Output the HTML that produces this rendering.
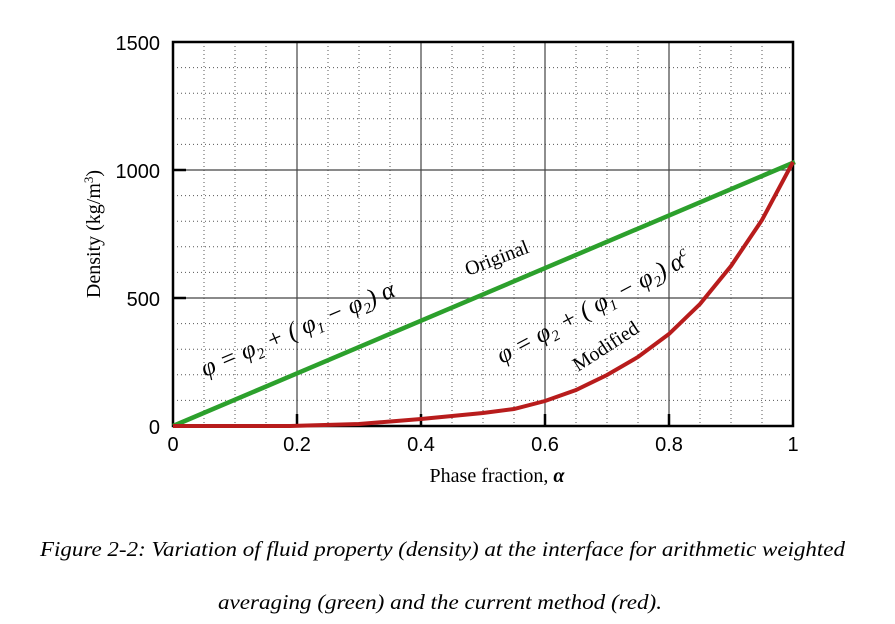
<!DOCTYPE html>
<html><head><style>body{margin:0;background:#fff;}svg{display:block}</style></head><body>
<svg width="895" height="624" xmlns="http://www.w3.org/2000/svg">
<rect width="895" height="624" fill="#fff"/>
<g stroke="#555" stroke-width="1" stroke-dasharray="1,3">
<line x1="204" y1="42" x2="204" y2="426"/><line x1="235" y1="42" x2="235" y2="426"/><line x1="266" y1="42" x2="266" y2="426"/>
<line x1="328" y1="42" x2="328" y2="426"/><line x1="359" y1="42" x2="359" y2="426"/><line x1="390" y1="42" x2="390" y2="426"/>
<line x1="452" y1="42" x2="452" y2="426"/><line x1="483" y1="42" x2="483" y2="426"/><line x1="514" y1="42" x2="514" y2="426"/>
<line x1="576" y1="42" x2="576" y2="426"/><line x1="607" y1="42" x2="607" y2="426"/><line x1="638" y1="42" x2="638" y2="426"/>
<line x1="700" y1="42" x2="700" y2="426"/><line x1="731" y1="42" x2="731" y2="426"/><line x1="762" y1="42" x2="762" y2="426"/>
<line x1="173" y1="67.6" x2="793" y2="67.6"/><line x1="173" y1="93.2" x2="793" y2="93.2"/><line x1="173" y1="118.8" x2="793" y2="118.8"/><line x1="173" y1="144.4" x2="793" y2="144.4"/>
<line x1="173" y1="195.6" x2="793" y2="195.6"/><line x1="173" y1="221.2" x2="793" y2="221.2"/><line x1="173" y1="246.8" x2="793" y2="246.8"/><line x1="173" y1="272.4" x2="793" y2="272.4"/>
<line x1="173" y1="323.6" x2="793" y2="323.6"/><line x1="173" y1="349.2" x2="793" y2="349.2"/><line x1="173" y1="374.8" x2="793" y2="374.8"/><line x1="173" y1="400.4" x2="793" y2="400.4"/>
</g>
<g stroke="#444" stroke-width="1.2">
<line x1="297" y1="42" x2="297" y2="426"/><line x1="421" y1="42" x2="421" y2="426"/><line x1="545" y1="42" x2="545" y2="426"/><line x1="669" y1="42" x2="669" y2="426"/>
<line x1="173" y1="170" x2="793" y2="170"/><line x1="173" y1="298" x2="793" y2="298"/>
</g>
<rect x="173" y="42" width="620" height="384" fill="none" stroke="#000" stroke-width="2.5"/>
<g stroke="#000" stroke-width="2.5">
<line x1="173" y1="170" x2="186" y2="170"/><line x1="173" y1="298" x2="186" y2="298"/>
<line x1="297" y1="426" x2="297" y2="414"/><line x1="421" y1="426" x2="421" y2="414"/><line x1="545" y1="426" x2="545" y2="414"/><line x1="669" y1="426" x2="669" y2="414"/>
</g>
<line x1="173" y1="426" x2="795" y2="162" stroke="#2ca02c" stroke-width="4.5"/>
<polyline fill="none" stroke="#b81c1c" stroke-width="4" points="173,426 290,426 359,424 421,419 483,413 514,409 545,401 576,390 607,375 638,357 669,334 700,304 731,266 762,220 793,162"/>
<g font-family="Liberation Sans, sans-serif" font-size="20" fill="#000">
<text x="160" y="50" text-anchor="end">1500</text>
<text x="160" y="178" text-anchor="end">1000</text>
<text x="160" y="306" text-anchor="end">500</text>
<text x="160" y="434" text-anchor="end">0</text>
<text x="173" y="451" text-anchor="middle">0</text>
<text x="297" y="451" text-anchor="middle">0.2</text>
<text x="421" y="451" text-anchor="middle">0.4</text>
<text x="545" y="451" text-anchor="middle">0.6</text>
<text x="669" y="451" text-anchor="middle">0.8</text>
<text x="793" y="451" text-anchor="middle">1</text>
</g>
<g font-family="Liberation Serif, serif" font-size="20" fill="#000">
<text x="497" y="482" text-anchor="middle">Phase fraction, <tspan font-weight="bold" font-style="italic">α</tspan></text>
<text transform="translate(100,234) rotate(-90)" text-anchor="middle">Density (kg/m<tspan font-size="13" dy="-7">3</tspan><tspan dy="7">)</tspan></text>
<text transform="translate(205,377) rotate(-23)" font-size="25" font-style="italic">φ = φ<tspan font-size="15" dy="5">2</tspan><tspan dy="-5"> + ( φ</tspan><tspan font-size="15" dy="5">1</tspan><tspan dy="-5"> − φ</tspan><tspan font-size="15" dy="5">2</tspan><tspan dy="-5">) α</tspan></text>
<text transform="translate(468,276) rotate(-21)">Original</text>
<text transform="translate(502,364) rotate(-28)" font-size="25" font-style="italic">φ = φ<tspan font-size="15" dy="5">2</tspan><tspan dy="-5"> + ( φ</tspan><tspan font-size="15" dy="5">1</tspan><tspan dy="-5"> − φ</tspan><tspan font-size="15" dy="5">2</tspan><tspan dy="-5">) α</tspan><tspan font-size="15" dy="-10">c</tspan></text>
<text transform="translate(578,372) rotate(-33)">Modified</text>
<text x="40" y="556" font-size="21" font-style="italic" textLength="805" lengthAdjust="spacingAndGlyphs">Figure 2-2: Variation of fluid property (density) at the interface for arithmetic weighted</text>
<text x="218" y="609" font-size="21" font-style="italic" textLength="444" lengthAdjust="spacingAndGlyphs">averaging (green) and the current method (red).</text>
</g>
</svg>
</body></html>
